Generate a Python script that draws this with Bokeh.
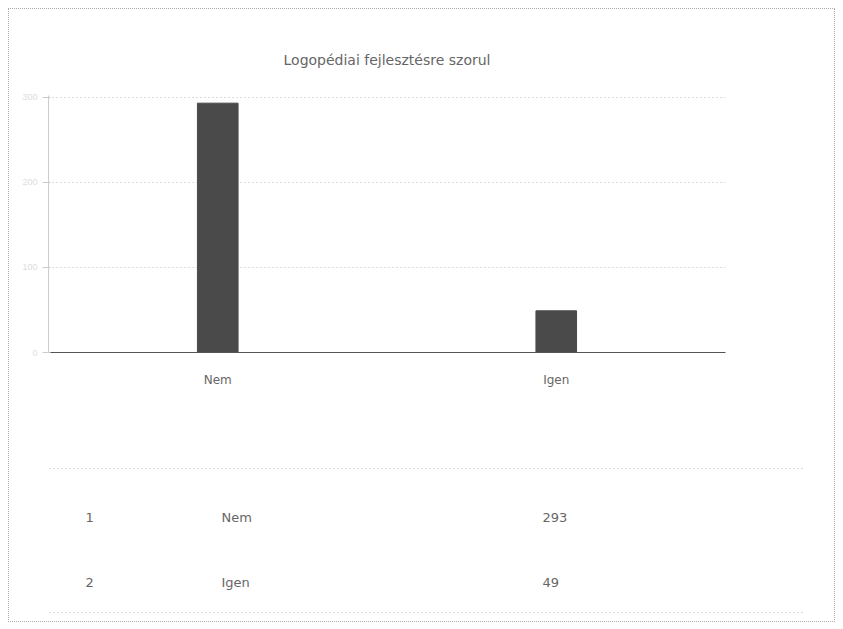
from bokeh.plotting import figure
from bokeh.layouts import column
from bokeh.models import ColumnDataSource, Title, Range1d, FactorRange
from bokeh.embed import file_html
from bokeh.resources import INLINE
from bokeh.core.properties import value

title_text = "Logopédiai fejlesztésre szorul"
categories = ["Nem", "Igen"]
counts = [293, 49]
row_index = ["1", "2"]
y_ticks = [0, 100, 200, 300]

FONT = "DejaVu Sans"
TEXT = "#666666"

src = ColumnDataSource(dict(cat=categories, val=counts))

p = figure(x_range=FactorRange(*categories), y_range=Range1d(0, 302),
           width=825, height=399, output_backend="svg", toolbar_location=None,
           min_border_left=39, min_border_right=109, min_border_top=86,
           min_border_bottom=56)
p.frame_align = False
p.title = Title(text=title_text, align="center", text_font=FONT,
                text_font_size="14px", text_font_style="normal",
                text_color=TEXT, standoff=55)
p.vbar(x="cat", top="val", width=0.12, source=src, color="#4a4a4a")
p.outline_line_color = None
p.xgrid.grid_line_color = None
p.ygrid.grid_line_color = "#bbbbbb"
p.ygrid.grid_line_dash = "1 3"
p.yaxis.ticker = y_ticks
p.yaxis.axis_line_color = "#cccccc"
p.yaxis.major_tick_line_color = "#cccccc"
p.yaxis.minor_tick_line_color = None
p.yaxis.major_label_text_color = "#dddddd"
p.yaxis.major_label_text_font_size = "9px"
p.xaxis.axis_line_color = "#555555"
p.xaxis.major_tick_line_color = None
p.xaxis.major_label_text_font = FONT
p.xaxis.major_label_text_font_size = "12px"
p.xaxis.major_label_text_color = TEXT
p.xaxis.major_label_standoff = 14

# table below (x in pixels from the container's left edge)
t = figure(width=825, height=213, output_backend="svg", toolbar_location=None,
           x_range=Range1d(0, 825), y_range=Range1d(213, 0),
           x_axis_location=None, y_axis_location=None,
           min_border_left=0, min_border_right=0,
           min_border_top=0, min_border_bottom=0)
t.frame_align = False
t.grid.visible = False
t.outline_line_color = None
t.segment(x0=[40, 40], y0=[60, 204], x1=[796, 796], y1=[60, 204],
          line_color="#bbbbbb", line_dash="1 3")
row_y = [109, 174]
tsrc = ColumnDataSource(dict(idx=row_index, cat=categories,
                             val=[str(v) for v in counts], y=row_y))
for xpos, col in [(76, "idx"), (212, "cat"), (533, "val")]:
    t.text(x=xpos, y="y", text=col, source=tsrc, text_font=value(FONT),
           text_font_size="13px", text_color=TEXT, text_baseline="middle",
           text_align="left")

layout = column(p, t, spacing=0,
                styles={"border": "1px dotted #aaaaaa", "margin-left": "8px",
                        "margin-top": "8px"})
open("out.html", "w").write(file_html(layout, INLINE))
